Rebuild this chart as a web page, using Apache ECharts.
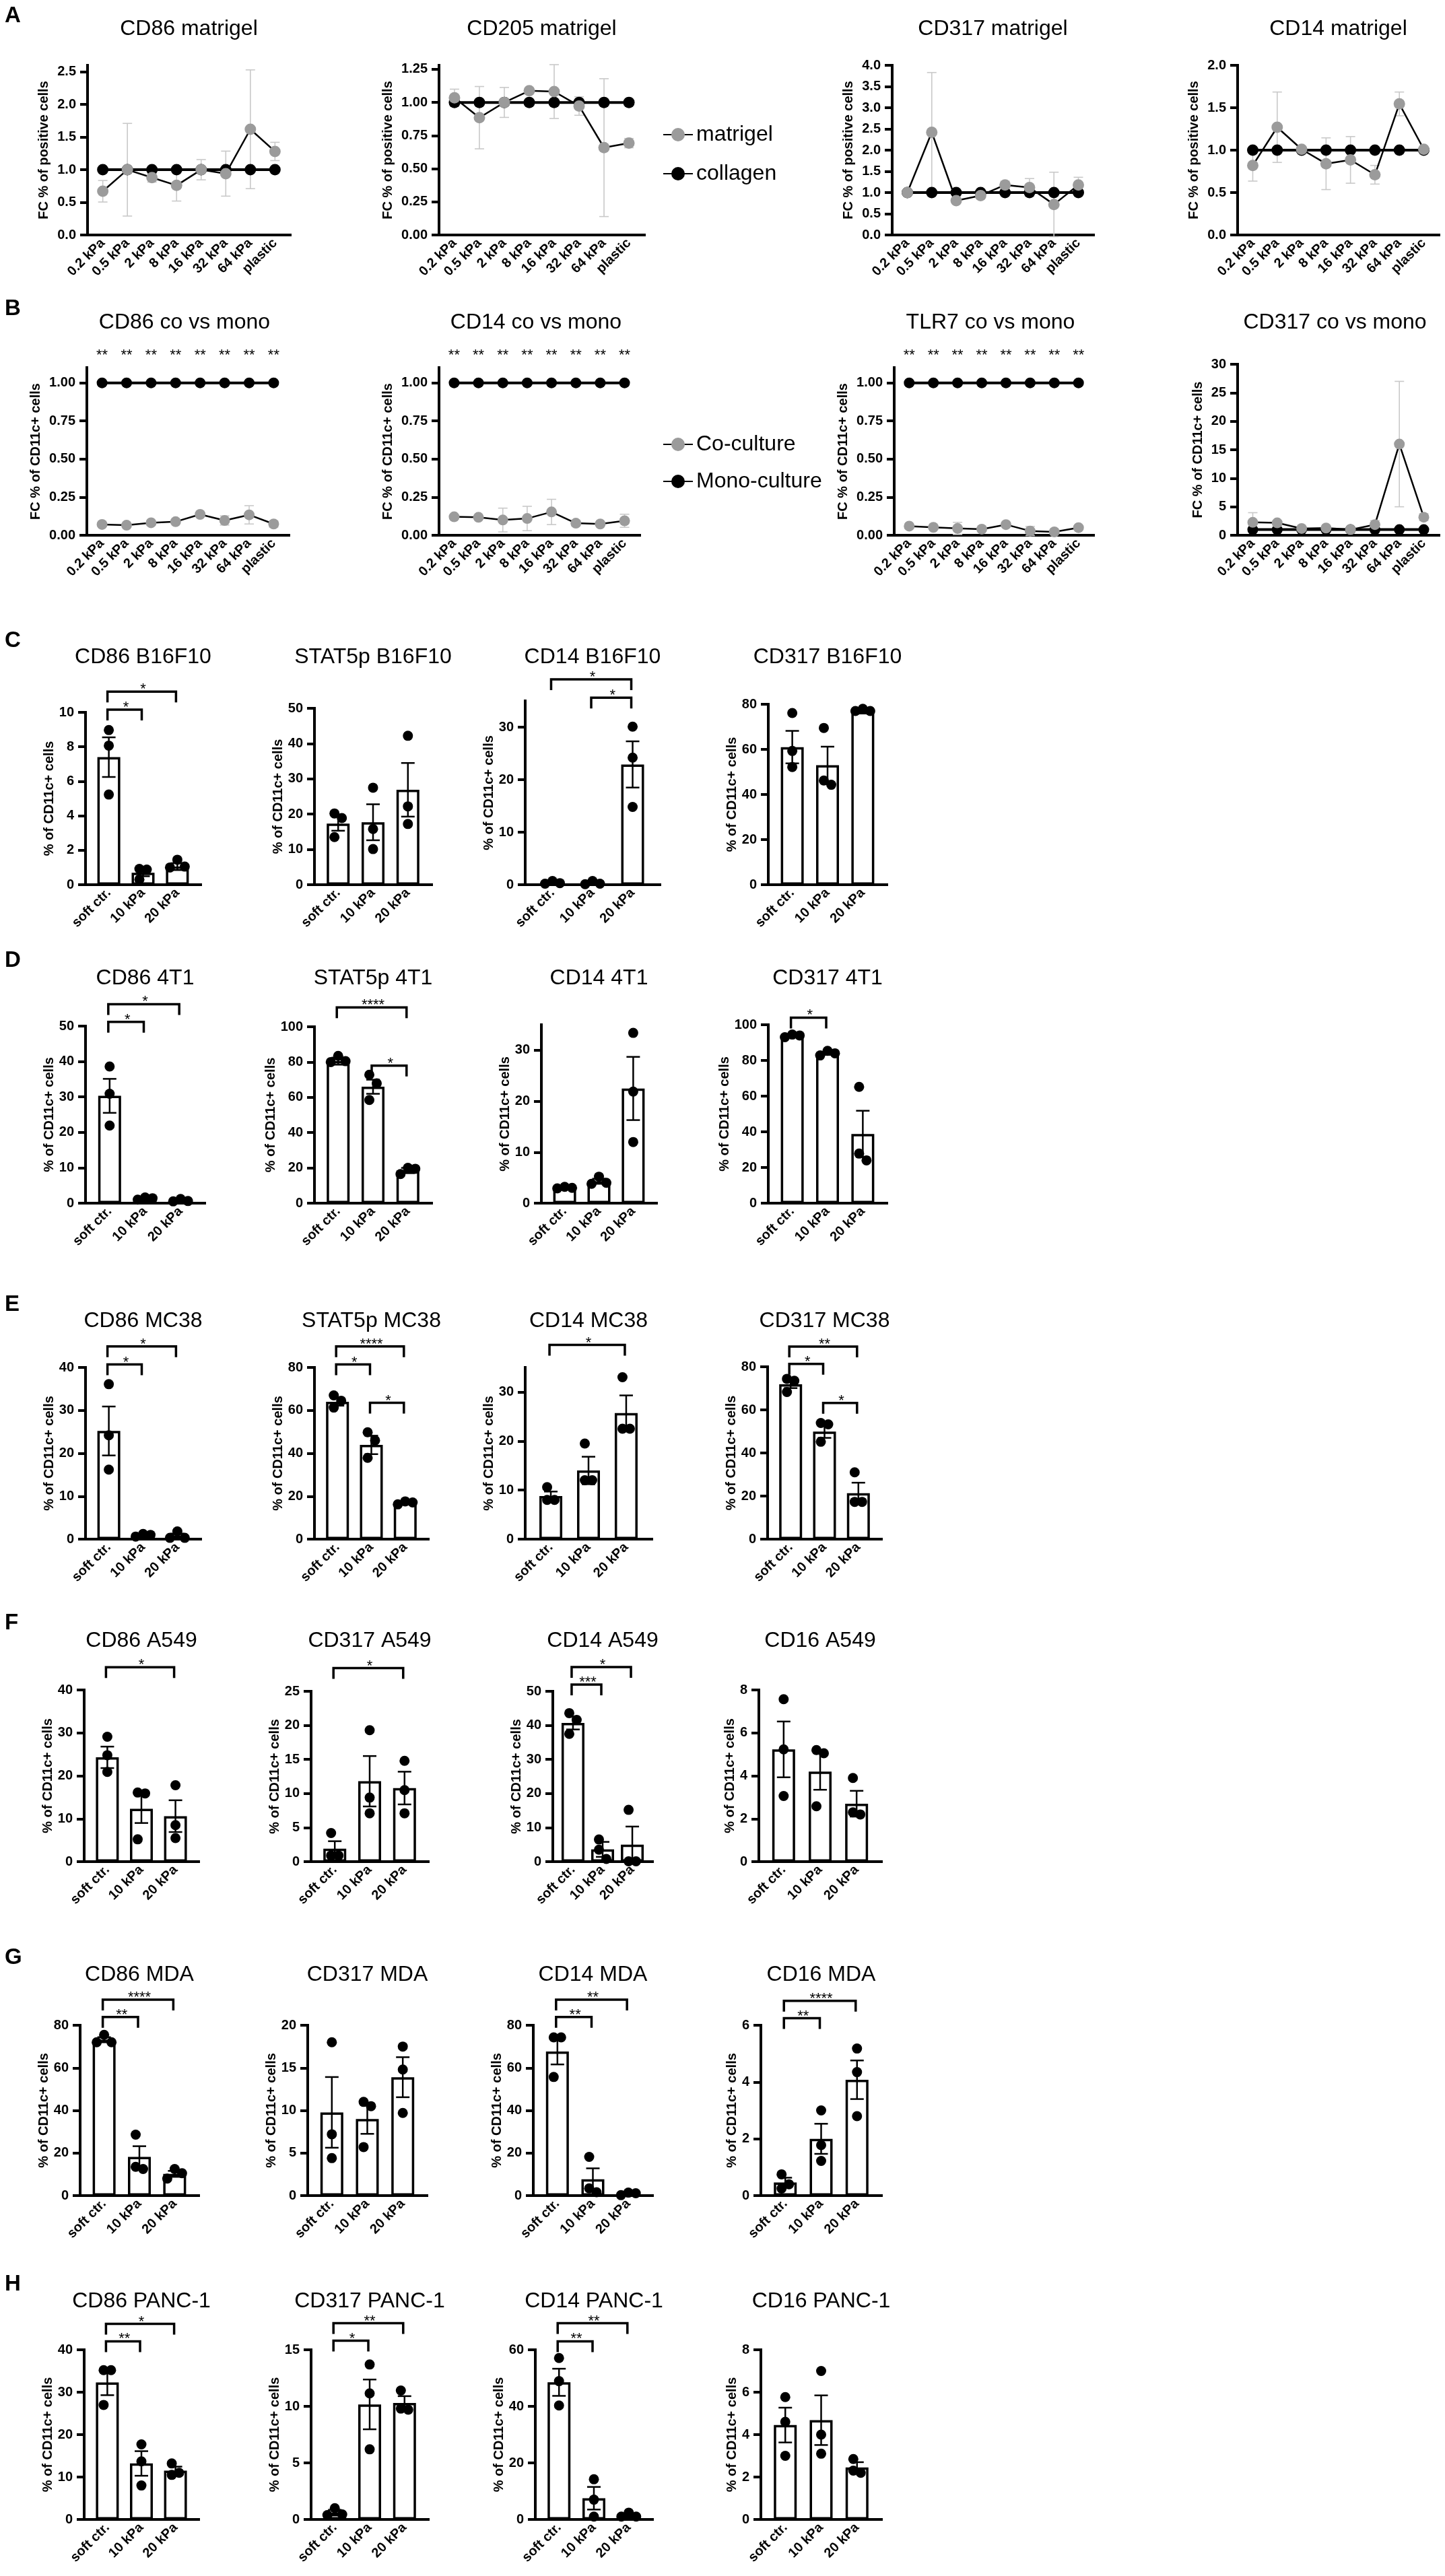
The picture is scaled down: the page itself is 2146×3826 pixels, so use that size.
<!DOCTYPE html>
<html>
<head>
<meta charset="utf-8">
<script src="https://cdn.jsdelivr.net/npm/echarts@6/dist/echarts.min.js"></script>
<style>
html,body{margin:0;padding:0;background:#ffffff;}
#c{width:2146px;height:3826px;}
</style>
</head>
<body>
<div id="c"></div>
<script>
// ======================= DATA =======================
const kpaLabels = ['0.2 kPa','0.5 kPa','2 kPa','8 kPa','16 kPa','32 kPa','64 kPa','plastic'];
const stiffLabels = ['soft ctr.','10 kPa','20 kPa'];

// ---- Panel A: FC % of positive cells, matrigel vs collagen (mean, SD) ----
const panelATitles = ['CD86 matrigel','CD205 matrigel','CD317 matrigel','CD14 matrigel'];
const collagenFC = [1,1,1,1,1,1,1,1];
const matrigelCD86 = [0.67,1.00,0.88,0.76,1.00,0.94,1.62,1.28];
const matrigelCD86SD = [0.165,0.71,0.07,0.24,0.155,0.345,0.91,0.14];
const matrigelCD205 = [1.035,0.885,1.00,1.088,1.082,0.973,0.659,0.693];
const matrigelCD205SD = [0.065,0.235,0.113,0.012,0.203,0.07,0.52,0.035];
const matrigelCD317 = [1.00,2.42,0.81,0.93,1.18,1.12,0.72,1.18];
const matrigelCD317SD = [0.03,1.41,0.06,0.05,0.09,0.21,0.76,0.18];
const matrigelCD14 = [0.82,1.27,1.01,0.84,0.885,0.71,1.545,1.01];
const matrigelCD14SD = [0.185,0.415,0.02,0.305,0.275,0.11,0.14,0.02];
const panelAYMax = [2.6,1.28,4,2];
const panelAYTop = [2.5,1.25,4,2];
const panelAYStep = [0.5,0.25,0.5,0.5];
const panelAYDec = [1,2,1,1];

// ---- Panel B: FC % of CD11c+ cells, co-culture vs mono-culture ----
const panelBTitles = ['CD86 co vs mono','CD14 co vs mono','TLR7 co vs mono','CD317 co vs mono'];
const monoFC = [1,1,1,1,1,1,1,1];
const coCD86 = [0.071,0.066,0.082,0.089,0.137,0.097,0.134,0.074];
const coCD86SD = [0.008,0.006,0.01,0.008,0.01,0.03,0.06,0.02];
const coCD14 = [0.121,0.118,0.10,0.11,0.153,0.079,0.074,0.095];
const coCD14SD = [0.01,0.01,0.078,0.08,0.083,0.018,0.008,0.043];
const coTLR7 = [0.06,0.052,0.045,0.04,0.07,0.028,0.022,0.05];
const coTLR7SD = [0.006,0.006,0.04,0.005,0.015,0.03,0.005,0.008];
const coCD317 = [2.26,2.18,1.19,1.27,0.99,1.87,16.0,3.17];
const coCD317SD = [1.7,0.4,0.15,0.2,0.15,0.7,11.0,0.6];
const coVsMonoStars = ['**','**','**','**','**','**','**','**'];
const panelBYMax = [1.1,1.1,1.1,30];
const panelBYTop = [1,1,1,30];
const panelBYStep = [0.25,0.25,0.25,5];
const panelBYDec = [2,2,2,0];

// ---- Panel C: B16F10 ----
const B16F10_titles = ['CD86 B16F10','STAT5p B16F10','CD14 B16F10','CD317 B16F10'];
const B16F10_mean = [[7.4,0.69,1.05],[17.3,17.7,26.9],[0.3,0.3,22.9],[61,53,76.6]];
const B16F10_sem = [[1.15,0.2,0.2],[2.0,5.1,7.6],[0.2,0.2,4.4],[7.2,8.2,0.5]];
const B16F10_pts = [
  [[8.97,8.07,5.23],[0.92,0.88,0.3],[1.45,1.05,1.0]],
  [[20.2,18.9,13.5],[27.5,15.8,10.1],[42.2,22.2,17.2]],
  [[0.2,0.7,0.3],[0.1,0.7,0.2],[30.1,24.2,14.8]],
  [[76.1,59.3,52.2],[69.5,46.2,44.3],[77,78,77]]];
const B16F10_sig = [[[0,1,10.16,'*'],[0,2,11.2,'*']],[],[[0,2,39.1,'*'],[1,2,35.6,'*']],[]];
const B16F10_ymax = [10,50,35,80];
const B16F10_ystep = [2,10,10,20];

// ---- Panel D: 4T1 ----
const T4T1_titles = ['CD86 4T1','STAT5p 4T1','CD14 4T1','CD317 4T1'];
const T4T1_mean = [[30.3,1.3,0.8],[80.5,66,18.5],[3.0,4.3,22.5],[93.8,84,38.8]];
const T4T1_sem = [[4.8,0.2,0.2],[2.0,4.0,1.5],[0.1,0.5,6.2],[0.5,0.8,13]];
const T4T1_pts = [
  [[38.6,30.9,21.9],[1.0,1.6,1.4],[0.5,1.2,0.6]],
  [[83.5,80,80.5],[72.8,67.9,58.5],[20,16.5,19.5]],
  [[3.2,3.0,2.9],[5.2,4.0,3.8],[33.4,21.9,12.0]],
  [[93,94.5,94],[85.4,82.8,84],[65.2,27.8,24]]];
const T4T1_sig = [[[0,1,51.2,'*'],[0,2,56.2,'*']],[[0,2,111,'****'],[1,2,78,'*']],[],[[0,1,104,'*']]];
const T4T1_ymax = [50,100,35,100];
const T4T1_ystep = [10,20,10,20];

// ---- Panel E: MC38 ----
const MC38_titles = ['CD86 MC38','STAT5p MC38','CD14 MC38','CD317 MC38'];
const MC38_mean = [[25.2,0.9,0.8],[64,43.9,17.1],[8.8,14,25.7],[71.9,49.9,21.3]];
const MC38_sem = [[5.7,0.2,0.5],[1.8,4.3,0.5],[0.9,2.8,3.6],[1.8,2.9,4.9]];
const MC38_pts = [
  [[36.1,24.2,16.2],[0.6,1.2,1.0],[0.3,1.8,0.3]],
  [[67,64.5,61.3],[49.8,46,37.9],[16.2,17.6,17.1]],
  [[10.6,8.0,8.0],[19.5,12,12],[33,22.5,22.5]],
  [[74.4,73.5,68.3],[53.9,53.3,45.2],[31,17.3,17.3]]];
const MC38_sig = [[[0,1,40.7,'*'],[0,2,44.9,'*']],[[0,1,81.4,'*'],[0,2,89.8,'****'],[1,2,63.5,'*']],[[0,2,39.6,'*']],[[0,1,81.3,'*'],[0,2,89.4,'**'],[1,2,63.2,'*']]];
const MC38_ymax = [40,80,35,80];
const MC38_ystep = [10,20,10,20];

// ---- Panel F: A549 ----
const A549_titles = ['CD86 A549','CD317 A549','CD14 A549','CD16 A549'];
const A549_mean = [[24.3,12.3,10.6],[1.9,11.8,10.8],[40.7,3.6,5.0],[5.23,4.2,2.7]];
const A549_sem = [[2.5,3.3,3.7],[1.1,3.7,2.4],[1.9,2.2,5.3],[1.3,0.85,0.6]];
const A549_pts = [
  [[29.1,24.8,20.9],[16.1,15.9,5.2],[17.8,8.5,5.5]],
  [[4.2,0.9,0.9],[19.3,9.4,7.1],[14.8,10.5,7.1]],
  [[43.6,41.6,37.5],[6.5,3.5,0.8],[15.2,0.1,0.1]],
  [[7.57,5.23,3.06],[5.2,5.05,2.58],[3.9,2.2,2.3]]];
const A549_sig = [[[0,2,45.3,'*']],[[0,2,28.4,'*']],[[0,1,52,'***'],[0,2,57.1,'*']],[]];
const A549_ymax = [40,25,50,8];
const A549_ystep = [10,5,10,2];

// ---- Panel G: MDA ----
const MDA_titles = ['CD86 MDA','CD317 MDA','CD14 MDA','CD16 MDA'];
const MDA_mean = [[73.2,18.2,10.2],[9.77,9.0,13.9],[67.7,7.7,0.7],[0.46,2.0,4.08]];
const MDA_sem = [[1.2,5.0,1.4],[4.15,1.75,2.35],[6.1,5.1,0.4],[0.17,0.53,0.68]];
const MDA_pts = [
  [[75.5,72,72],[28.6,13.5,12.5],[12.5,10.5,8.0]],
  [[18,7.2,4.4],[11,10.5,5.7],[17.5,14.8,9.7]],
  [[74.3,74.3,55.7],[18.2,3.4,1.6],[1.1,1.4,0.2]],
  [[0.75,0.4,0.25],[3.0,1.78,1.22],[5.18,4.35,2.8]]];
const MDA_sig = [[[0,1,83.9,'**'],[0,2,92,'****']],[],[[0,1,83.9,'**'],[0,2,92,'**']],[[0,1,6.25,'**'],[0,2,6.86,'****']]];
const MDA_ymax = [80,20,80,6];
const MDA_ystep = [20,5,20,2];

// ---- Panel H: PANC-1 ----
const PANC1_titles = ['CD86 PANC-1','CD317 PANC-1','CD14 PANC-1','CD16 PANC-1'];
const PANC1_mean = [[32.3,13.2,11.5],[0.6,10.17,10.3],[48.5,7.5,1.4],[4.45,4.68,2.45]];
const PANC1_sem = [[3.0,2.9,0.95],[0.25,2.2,0.6],[4.8,4.0,0.5],[0.82,1.17,0.25]];
const PANC1_pts = [
  [[35.2,35.2,27],[17.7,13.7,8.0],[13.2,11.0,10.5]],
  [[1.0,0.45,0.38],[13.7,11.15,6.2],[11.4,9.8,9.7]],
  [[57.1,48.9,40.3],[14.2,7.0,1.0],[2.4,1.0,1.0]],
  [[5.77,4.6,3.0],[7.0,4.0,3.1],[2.85,2.3,2.2]]];
const PANC1_sig = [[[0,1,42,'**'],[0,2,46.1,'*']],[[0,1,15.8,'*'],[0,2,17.35,'**']],[[0,1,63,'**'],[0,2,69.4,'**']],[]];
const PANC1_ymax = [40,15,60,8];
const PANC1_ystep = [10,5,20,2];

// ======================= LAYOUT & STYLE =======================
const FONT = "'Liberation Sans', Arial, Helvetica, sans-serif";
const AXW = 4;
const LINE_PAD = 0.62, BAR_PAD = 0.68;
const BAR_W = 34, DOT_R = 7.5, SWARM_H = 11, LEG = 16;
const TICK_LEN = 11, LABEL_MARGIN = 17;
const STAR_FONT = "22px " + FONT;

const layoutA = {top:97, height:252, lefts:[130,652,1325,1838], widths:[301,305,299,299], titleY:43, titleShift:0, letter:'A', letterY:24};
const layoutB = {tops:[546,546,546,541], zero:795, lefts:[129,652,1328,1838], widths:[300,298,296,299], titleY:479, titleShift:-5, letter:'B', letterY:459};
const barLayout = [
  {letter:'C', letterY:952, titleY:976, zero:1314, tops:[1058,1052,1041,1046], lefts:[127,467,780,1141], rights:[298,641,980,1317]},
  {letter:'D', letterY:1427, titleY:1453, zero:1787, tops:[1524,1525,1522,1522], lefts:[127,467,804,1141], rights:[304,641,975,1317]},
  {letter:'E', letterY:1938, titleY:1962, zero:2286, tops:[2031,2031,2031,2030], lefts:[127,467,780,1140], rights:[298,636,968,1309]},
  {letter:'F', letterY:2411, titleY:2437, zero:2765, tops:[2510,2512,2512,2510], lefts:[125,462,821,1127], rights:[295,636,969,1309]},
  {letter:'G', letterY:2908, titleY:2933, zero:3261, tops:[3008,3008,3008,3008], lefts:[119,457,792,1130], rights:[295,634,969,1309]},
  {letter:'H', letterY:3393, titleY:3418, zero:3742, tops:[3490,3490,3490,3490], lefts:[125,462,795,1130], rights:[295,636,969,1309]}
];

// ======================= BUILD =======================
const grids = [], xAxis = [], yAxis = [], series = [], gtexts = [];

function tickList(top, step){
  const n = Math.round(top/step); const a = [];
  for (let k=0;k<=n;k++) a.push(Math.round(k*step*1e6)/1e6);
  return a;
}
function addGrid(l,t,w,h){
  grids.push({left:l, top:t, width:w, height:h, containLabel:false, outerBoundsMode:'none'});
  return grids.length-1;
}
function textEl(str, x, y, font, align){
  return {type:'text', x:x, y:y, silent:true,
    style:{text:str, fill:'#000', font:font, align:align, verticalAlign:'middle', textAlign:align, textVerticalAlign:'middle'}};
}
function addTitle(str, cx, cy){ gtexts.push(textEl(str, cx, cy, "32px " + FONT, 'center')); }
function addLetter(str, cy){ gtexts.push(textEl(str, 7, cy, "bold 33px " + FONT, 'left')); }

function addAxes(gi, cats, pad, ymax, ytop, ystep, dec, yName, gapExtra){
  const tk = tickList(ytop, ystep);
  const labs = tk.map(t => t.toFixed(dec));
  const lw = Math.max.apply(null, labs.map(s => {
    const hasDot = s.indexOf('.') >= 0;
    return (s.length - (hasDot?1:0))*11 + (hasDot?6:0);
  }));
  xAxis.push({gridIndex:gi, type:'value', min:-pad, max:cats.length-1+pad,
    axisLine:{show:true, onZero:false, lineStyle:{color:'#000', width:AXW, cap:'square'}},
    axisTick:{show:false}, splitLine:{show:false},
    axisLabel:{show:true, customValues:cats.map((c,i)=>i), formatter:(v)=>cats[Math.round(v)]||'',
      rotate:45, margin:9, color:'#000', fontSize:20, fontWeight:'bold', fontFamily:FONT}});
  yAxis.push({gridIndex:gi, type:'value', min:0, max:ymax, interval:ystep,
    axisLine:{show:true, onZero:false, lineStyle:{color:'#000', width:AXW, cap:'square'}},
    axisTick:{show:true, length:TICK_LEN, lineStyle:{color:'#000', width:AXW}, customValues:tk},
    splitLine:{show:false},
    axisLabel:{show:true, customValues:tk, formatter:(v)=>Number(v).toFixed(dec), margin:LABEL_MARGIN,
      color:'#000', fontSize:20, fontWeight:'bold', fontFamily:FONT},
    name:yName, nameLocation:'middle', nameGap:LABEL_MARGIN + lw + 3 + gapExtra,
    nameTextStyle:{color:'#000', fontSize:20, fontWeight:'bold', fontFamily:FONT}});
}

function errSeries(gi, rows, color, lw, cap, z){
  return {type:'custom', xAxisIndex:gi, yAxisIndex:gi, data:rows, encode:{x:0, y:1}, z:z, silent:true, clip:false, animation:false,
    renderItem:function(p, api){
      const x = api.value(0), m = api.value(1), e = api.value(2);
      const a = api.coord([x, m+e]), b = api.coord([x, m-e]); const cx = a[0];
      const st = () => ({stroke:color, lineWidth:lw, fill:'none'});
      return {type:'group', children:[
        {type:'line', shape:{x1:cx, y1:a[1], x2:cx, y2:b[1]}, style:st()},
        {type:'line', shape:{x1:cx-cap/2, y1:a[1], x2:cx+cap/2, y2:a[1]}, style:st()},
        {type:'line', shape:{x1:cx-cap/2, y1:b[1], x2:cx+cap/2, y2:b[1]}, style:st()}]};
    }};
}

function swarm(ys){
  const order = ys.map((y,k)=>k).sort((a,b)=>ys[a]-ys[b]);
  const off = ys.map(()=>0), placed = [];
  const cands = [0, SWARM_H, -SWARM_H, 2*SWARM_H, -2*SWARM_H];
  order.forEach(k => {
    for (const c of cands){
      const ok = placed.every(p => !(Math.abs(p.x-c) < SWARM_H*0.9 && Math.abs(p.y-ys[k]) < 2*DOT_R));
      if (ok){ off[k] = c; placed.push({x:c, y:ys[k]}); break; }
    }
  });
  const mn = Math.min.apply(null, off), mx = Math.max.apply(null, off), s = (mn+mx)/2;
  return off.map(o => o - s);
}

function dotSeries(gi, pts){
  return {type:'custom', xAxisIndex:gi, yAxisIndex:gi, data:pts.map((g,i)=>[i].concat(g)), encode:{x:0, y:[1,2,3]},
    z:5, silent:true, clip:false, animation:false,
    renderItem:function(p, api){
      const x = api.value(0);
      const qs = [1,2,3].map(k => api.coord([x, api.value(k)]));
      const off = swarm(qs.map(q => q[1]));
      return {type:'group', children:qs.map((q,k)=>({type:'circle', shape:{cx:q[0]+off[k], cy:q[1], r:DOT_R}, style:{fill:'#000', stroke:'none'}}))};
    }};
}

function sigSeries(gi, sig){
  return {type:'custom', xAxisIndex:gi, yAxisIndex:gi, data:sig.map(s=>[s[0], s[2], s[1]]), encode:{x:0, y:1},
    z:6, silent:true, clip:false, animation:false,
    renderItem:function(p, api){
      const s = sig[p.dataIndex];
      const a = api.coord([s[0], s[2]]), b = api.coord([s[1], s[2]]);
      return {type:'group', children:[
        {type:'polyline', shape:{points:[[a[0]-2, a[1]+LEG],[a[0]-2, a[1]],[b[0]-2, b[1]],[b[0]-2, b[1]+LEG]]},
          style:{stroke:'#000', lineWidth:3.5, fill:'none', lineJoin:'miter'}},
        {type:'text', x:(a[0]+b[0])/2, y:a[1]-3,
          style:{text:s[3], fill:'#000', font:STAR_FONT, align:'center', verticalAlign:'middle', textAlign:'center', textVerticalAlign:'middle'}}]};
    }};
}

function starSeries(gi, stars, ymax){
  return {type:'custom', xAxisIndex:gi, yAxisIndex:gi, data:stars.map((s,i)=>[i, ymax]), encode:{x:0, y:1},
    z:6, silent:true, clip:false, animation:false,
    renderItem:function(p, api){
      const a = api.coord([api.value(0), api.value(1)]);
      return {type:'text', x:a[0], y:a[1]-18,
        style:{text:stars[p.dataIndex], fill:'#000', font:STAR_FONT, align:'center', verticalAlign:'middle', textAlign:'center', textVerticalAlign:'middle'}};
    }};
}

function lineSeries(gi, name, vals, dotColor, lw, size, z){
  return {type:'line', name:name, xAxisIndex:gi, yAxisIndex:gi, data:vals.map((v,i)=>[i,v]),
    symbol:'circle', symbolSize:size, showAllSymbol:true, itemStyle:{color:dotColor, borderWidth:0},
    lineStyle:{color:'#000', width:lw}, z:z, silent:true, animation:false, emphasis:{disabled:true}};
}

// ---- Panel A ----
const aTests = [matrigelCD86, matrigelCD205, matrigelCD317, matrigelCD14];
const aErrs = [matrigelCD86SD, matrigelCD205SD, matrigelCD317SD, matrigelCD14SD];
addLetter(layoutA.letter, layoutA.letterY);
for (let c=0;c<4;c++){
  const gi = addGrid(layoutA.lefts[c], layoutA.top, layoutA.widths[c], layoutA.height);
  addAxes(gi, kpaLabels, LINE_PAD, panelAYMax[c], panelAYTop[c], panelAYStep[c], panelAYDec[c], 'FC % of positive cells', 7);
  addTitle(panelATitles[c], layoutA.lefts[c] + layoutA.widths[c]/2 + layoutA.titleShift, layoutA.titleY);
  series.push(errSeries(gi, aTests[c].map((m,i)=>[i, m, aErrs[c][i]]), '#c9c9c9', 1.6, 14, 1));
  series.push(lineSeries(gi, 'collagen', collagenFC, '#000', 4, 17, 2));
  series.push(lineSeries(gi, 'matrigel', aTests[c], '#9b9b9b', 2.5, 17, 3));
}

// ---- Panel B ----
const bTests = [coCD86, coCD14, coTLR7, coCD317];
const bErrs = [coCD86SD, coCD14SD, coTLR7SD, coCD317SD];
const bStars = [coVsMonoStars, coVsMonoStars, coVsMonoStars, null];
addLetter(layoutB.letter, layoutB.letterY);
for (let c=0;c<4;c++){
  const top = layoutB.tops[c];
  const gi = addGrid(layoutB.lefts[c], top, layoutB.widths[c], layoutB.zero - top);
  addAxes(gi, kpaLabels, LINE_PAD, panelBYMax[c], panelBYTop[c], panelBYStep[c], panelBYDec[c], 'FC % of CD11c+ cells', 7);
  addTitle(panelBTitles[c], layoutB.lefts[c] + layoutB.widths[c]/2 + layoutB.titleShift, layoutB.titleY);
  series.push(errSeries(gi, bTests[c].map((m,i)=>[i, m, bErrs[c][i]]), '#c9c9c9', 1.6, 14, 1));
  series.push(lineSeries(gi, 'Mono-culture', monoFC, '#000', 4, 16, 2));
  series.push(lineSeries(gi, 'Co-culture', bTests[c], '#9b9b9b', 2.5, 16, 3));
  if (bStars[c]) series.push(starSeries(gi, bStars[c], panelBYMax[c]));
}

// ---- Panels C-H ----
const barRows = [
  {titles:B16F10_titles, mean:B16F10_mean, sem:B16F10_sem, pts:B16F10_pts, sig:B16F10_sig, ymax:B16F10_ymax, ystep:B16F10_ystep},
  {titles:T4T1_titles, mean:T4T1_mean, sem:T4T1_sem, pts:T4T1_pts, sig:T4T1_sig, ymax:T4T1_ymax, ystep:T4T1_ystep},
  {titles:MC38_titles, mean:MC38_mean, sem:MC38_sem, pts:MC38_pts, sig:MC38_sig, ymax:MC38_ymax, ystep:MC38_ystep},
  {titles:A549_titles, mean:A549_mean, sem:A549_sem, pts:A549_pts, sig:A549_sig, ymax:A549_ymax, ystep:A549_ystep},
  {titles:MDA_titles, mean:MDA_mean, sem:MDA_sem, pts:MDA_pts, sig:MDA_sig, ymax:MDA_ymax, ystep:MDA_ystep},
  {titles:PANC1_titles, mean:PANC1_mean, sem:PANC1_sem, pts:PANC1_pts, sig:PANC1_sig, ymax:PANC1_ymax, ystep:PANC1_ystep}
];
barRows.forEach((row, r) => {
  const L = barLayout[r];
  addLetter(L.letter, L.letterY);
  for (let c=0;c<4;c++){
    const left = L.lefts[c], w = L.rights[c]-L.lefts[c], top = L.tops[c], h = L.zero - top;
    const gi = addGrid(left, top, w, h);
    const ymax = row.ymax[c], step = row.ystep[c];
    const ytop = Math.floor(ymax/step + 1e-9)*step;
    addAxes(gi, stiffLabels, BAR_PAD, ymax, ytop, step, 0, '% of CD11c+ cells', -2);
    addTitle(row.titles[c], left + w/2, L.titleY);
    series.push({type:'bar', xAxisIndex:gi, yAxisIndex:gi, data:row.mean[c].map((v,i)=>[i,v]), barWidth:BAR_W,
      itemStyle:{color:'#ffffff', borderColor:'#000', borderWidth:3.5}, z:2, silent:true, animation:false, emphasis:{disabled:true}});
    series.push(errSeries(gi, row.mean[c].map((m,i)=>[i, m, row.sem[c][i]]), '#000', 2.5, 20, 4));
    series.push(dotSeries(gi, row.pts[c]));
    if (row.sig[c].length) series.push(sigSeries(gi, row.sig[c]));
  }
});

const legendText = {fontSize:32, fontFamily:FONT, color:'#000', lineHeight:36};
const option = {
  backgroundColor:'#ffffff',
  animation:false,
  grid:grids, xAxis:xAxis, yAxis:yAxis, series:series,
  legend:[
    {data:['matrigel','collagen'], orient:'vertical', left:979, top:177, itemWidth:44, itemHeight:25, itemGap:22,
      textStyle:legendText, selectedMode:false},
    {data:['Co-culture','Mono-culture'], orient:'vertical', left:979, top:637, itemWidth:44, itemHeight:25, itemGap:19,
      textStyle:legendText, selectedMode:false}
  ],
  graphic:{elements:gtexts}
};
const chart = echarts.init(document.getElementById('c'), null, {renderer:'canvas', width:2146, height:3826});
chart.setOption(option);
</script>
</body>
</html>
